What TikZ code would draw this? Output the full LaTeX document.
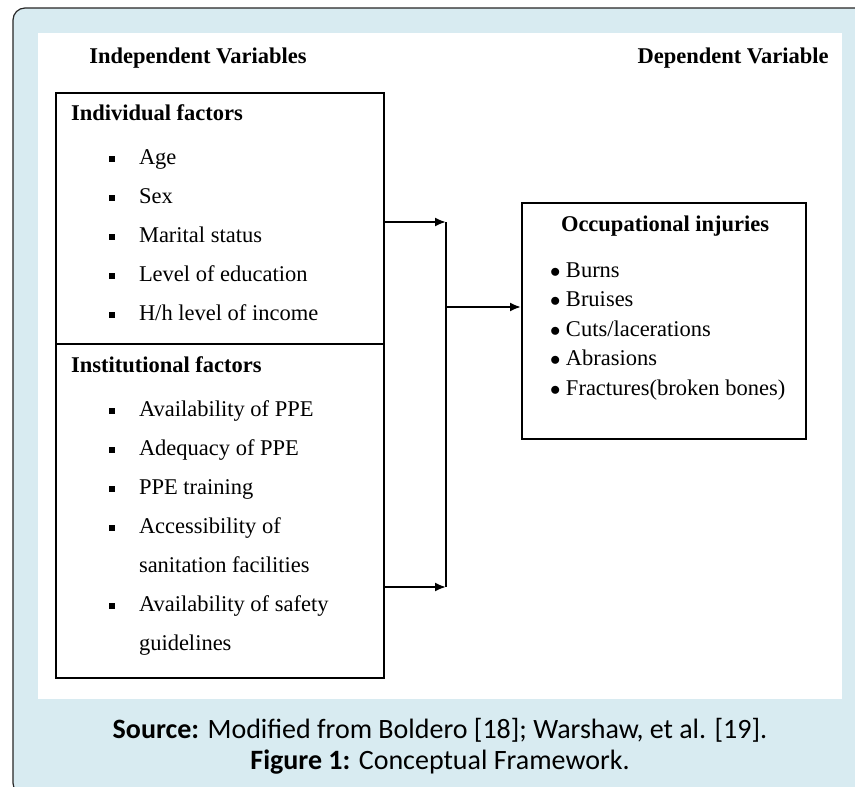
\documentclass[tikz,border=0pt]{standalone}
\usepackage{fontspec}
\setmainfont{Liberation Serif}
\newfontfamily\capfont{Carlito}
\usetikzlibrary{positioning}
\usetikzlibrary{arrows.meta}
\definecolor{panelblue}{RGB}{216,235,241}
\tikzstyle{factorbox} = [draw, rectangle, line width=2pt, anchor=north west, minimum width=328pt]
\tikzstyle{factorlist} = [align=left, inner sep=0pt, font=\fontsize{22.5}{39}\selectfont]
\tikzstyle{outcome} = [draw, rectangle, line width=2pt, anchor=north west, minimum width=284pt, minimum height=236pt]
\tikzstyle{outlist} = [align=left, inner sep=0pt, font=\fontsize{22.5}{29.5}\selectfont]
\tikzstyle{colhead} = [font=\bfseries\fontsize{22.5}{27}\selectfont]
\tikzstyle{caption} = [font=\capfont\fontsize{28}{32}\selectfont]
\newcommand{\sqitem}[1]{\hspace*{38pt}\rule[3pt]{6pt}{6pt}\hspace{24pt}#1}
\newcommand{\contitem}[1]{\hspace*{68pt}#1}

\begin{document}
\begin{tikzpicture}[x=1pt,y=-1pt,>={Latex[length=11pt,width=9pt]},line width=2pt]
    \useasboundingbox (0,0) rectangle (855,787);
    \clip (0,0) rectangle (855,787);
    % panel
    \filldraw [fill=panelblue, draw=black!85, line width=1.2pt, rounded corners=12pt] (13,8) rectangle (880,795);
    \fill [white] (38,33) rectangle (842,699);

    \node [colhead, anchor=west] (indep) at (85,58) {Independent Variables};
    \node [colhead, anchor=east] (dep) at (833,58) {Dependent Variable};

    \node [factorbox, minimum height=251pt] (indiv) at (55,92) {};
    \node [factorlist, below right=12pt and 15pt of indiv.north west] (indivlist) {\textbf{Individual factors}\\[5pt]
        \sqitem{Age}\\
        \sqitem{Sex}\\
        \sqitem{Marital status}\\
        \sqitem{Level of education}\\
        \sqitem{H/h level of income}};
    \node [factorbox, minimum height=334pt] (inst) at (55,343) {};
    \node [factorlist, below right=13pt and 15pt of inst.north west] (instlist) {\textbf{Institutional factors}\\[5pt]
        \sqitem{Availability of PPE}\\
        \sqitem{Adequacy of PPE}\\
        \sqitem{PPE training}\\
        \sqitem{Accessibility of}\\
        \contitem{sanitation facilities}\\
        \sqitem{Availability of safety}\\
        \contitem{guidelines}};

    \node [outcome] (occ) at (521,202) {};
    \node [outlist, below right=13pt and 28pt of occ.north west] (occlist) {\hspace*{11pt}\textbf{Occupational injuries}\\[16pt]
        $\bullet$ Burns\\
        $\bullet$ Bruises\\
        $\bullet$ Cuts/lacerations\\
        $\bullet$ Abrasions\\
        $\bullet$ Fractures(broken bones)};

    \coordinate (jtop) at (446,222);
    \coordinate (jmid) at (446,307);
    \coordinate (jbot) at (446,587);

    \draw [->] (indiv.east |- jtop) -- (jtop);
    \draw [->] (inst.east |- jbot) -- (jbot);
    \draw (jtop) -- (jbot);
    \draw [->] (jmid) -- (occ.west |- jmid);

    \node [caption] (src) at (440,730) {\textbf{Source:} Modified from Boldero [18]; Warshaw, et al. [19].};
    \node [caption] (fig) at (440,762) {\textbf{Figure 1:} Conceptual Framework.};
\end{tikzpicture}
\end{document}
